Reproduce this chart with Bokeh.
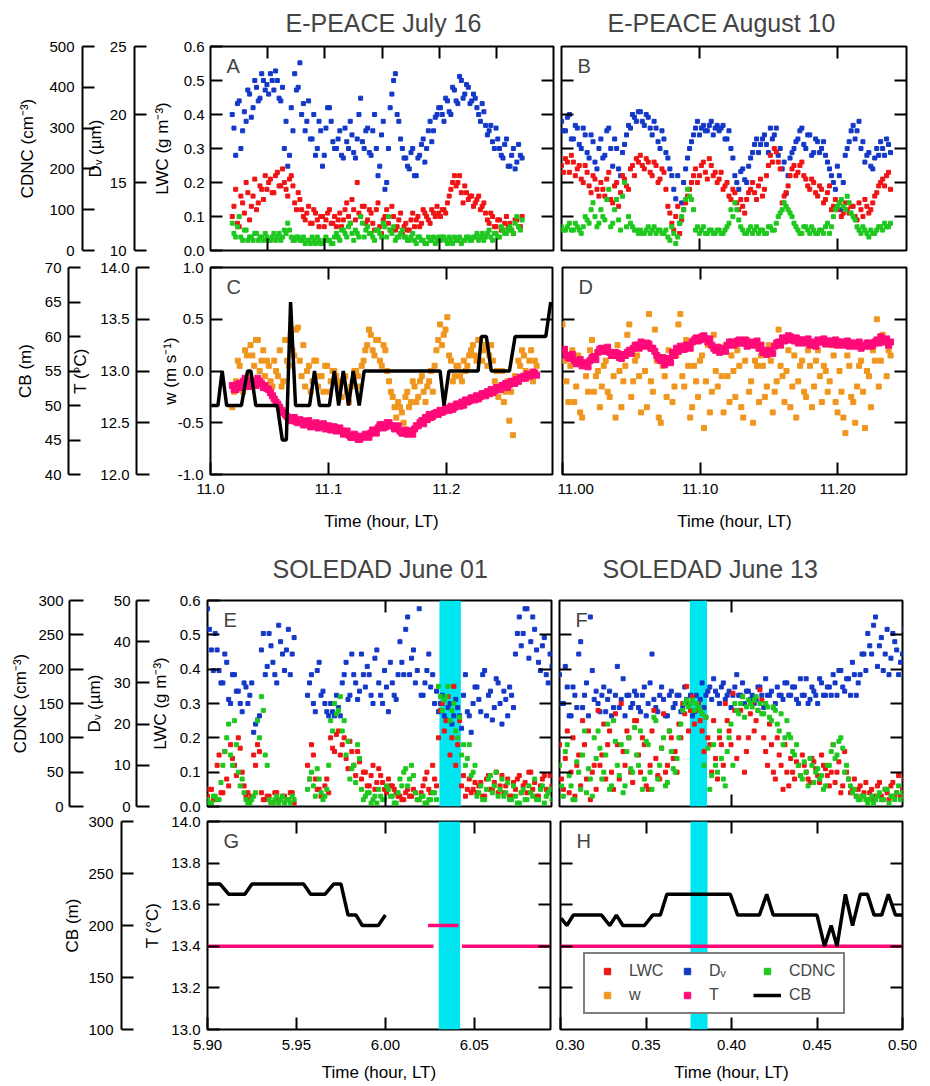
import numpy as np

from bokeh.embed import file_html
from bokeh.layouts import column, row
from bokeh.models import (BoxAnnotation, CustomLabelingPolicy, FixedTicker, Label, Legend,
                          LegendItem, LinearAxis, PrintfTickFormatter, Range1d, Title)
from bokeh.plotting import figure
from bokeh.resources import INLINE

nan = float("nan")

# ---------------- E-PEACE July 16 (panels A and C) ----------------
# two readings per time step: "..._a" on the grid, "..._a2" half a step later
a_span = (11.019, 11.271)
lwc_a = [0.10, 0.18, 0.07, 0.14, 0.20, 0.09, 0.16, 0.12, 0.19, 0.15,
         0.18, 0.21, 0.17, 0.23, 0.19, 0.20, 0.16, 0.22, 0.14, 0.17,
         0.12, 0.09, 0.13, 0.08, 0.11, 0.07, 0.10, 0.09, 0.12, 0.08,
         0.07, 0.11, 0.09, 0.14, 0.08, 0.12, 0.20, 0.10, 0.13, 0.09,
         0.11, 0.06, 0.14, 0.05, 0.10, 0.08, 0.13, 0.06, 0.09, 0.05,
         0.08, 0.06, 0.11, 0.09, 0.07, 0.12, 0.10, 0.08, 0.11, 0.13,
         0.10, 0.12, 0.14, 0.18, 0.22, 0.20, 0.17, 0.19, 0.15, 0.16,
         0.14, 0.16, 0.13, 0.11, 0.08, 0.10, 0.07, 0.09, 0.06, 0.10,
         0.08, 0.05, 0.09, 0.07]
lwc_a2 = [0.13, 0.08, 0.16, 0.11, 0.17, 0.13, 0.21, 0.14, 0.18, 0.22,
          0.20, 0.17, 0.22, 0.19, 0.24, 0.18, 0.21, 0.19, 0.12, 0.15,
          0.10, 0.11, 0.08, 0.12, 0.09, 0.10, 0.07, 0.11, 0.08, 0.10,
          0.09, 0.07, 0.12, 0.10, 0.15, 0.09, 0.11, 0.13, 0.08, 0.12,
          0.08, 0.12, 0.07, 0.09, 0.12, 0.06, 0.10, 0.07, 0.11, 0.07,
          0.06, 0.09, 0.07, 0.10, 0.08, 0.11, 0.09, 0.12, 0.10, 0.11,
          0.12, 0.11, 0.16, 0.20, 0.19, 0.22, 0.14, 0.17, 0.16, 0.13,
          0.15, 0.12, 0.14, 0.09, 0.11, 0.07, 0.09, 0.06, 0.08, 0.07,
          0.06, 0.09, 0.07, 0.10]
dv_a = [20.0, 17.0, 21.0, 18.8, 19.5, 21.5, 20.5, 22.0, 21.2, 22.5,
        22.2, 23.0, 21.8, 22.5, 21.0, 17.5, 16.2, 20.5, 23.0, 22.0,
        20.0, 18.8, 21.0, 18.2, 17.0, 19.5, 16.2, 19.0, 20.5, 18.0,
        17.5, 18.8, 16.8, 18.0, 19.5, 17.2, 18.2, 21.2, 17.5, 19.0,
        17.0, 20.0, 15.5, 18.5, 14.5, 17.5, 21.5, 23.0, 19.5, 17.5,
        16.8, 16.0, 17.5, 15.5, 17.0, 18.2, 17.5, 19.5, 18.8, 20.0,
        20.5, 19.5, 21.0, 20.0, 21.8, 20.8, 22.5, 21.5, 22.0, 21.0,
        21.2, 20.0, 20.8, 19.2, 18.8, 18.0, 19.0, 17.5, 16.8, 18.2,
        16.2, 17.5, 16.5, 17.0]
dv_a2 = [19.0, 20.8, 17.5, 20.2, 21.8, 19.8, 22.5, 21.0, 23.0, 21.8,
         21.5, 22.5, 23.2, 21.2, 22.0, 19.5, 17.0, 18.8, 21.8, 23.8,
         20.8, 19.5, 18.2, 20.0, 17.5, 18.8, 17.0, 20.5, 19.5, 17.5,
         18.2, 17.0, 19.0, 17.5, 18.5, 16.8, 20.0, 18.0, 18.8, 17.2,
         18.8, 17.5, 16.2, 19.5, 15.0, 20.5, 22.5, 20.0, 18.2, 16.8,
         16.2, 17.2, 15.5, 16.8, 17.8, 16.5, 18.8, 18.0, 19.8, 20.5,
         20.0, 21.2, 20.2, 22.0, 21.0, 22.8, 21.2, 22.2, 20.8, 21.5,
         20.5, 19.5, 20.2, 18.5, 19.2, 17.5, 18.2, 17.0, 17.8, 16.2,
         17.0, 16.0, 17.8, 16.8]
cdnc_a = [67, 33, 83, 25, 50, 33, 25, 42, 33, 25,
          33, 25, 42, 33, 25, 50, 67, 33, 25, 33,
          25, 17, 25, 33, 17, 25, 17, 33, 25, 17,
          42, 25, 50, 33, 67, 25, 42, 83, 33, 58,
          42, 25, 50, 33, 58, 83, 42, 25, 33, 50,
          33, 25, 42, 17, 33, 25, 17, 25, 33, 25,
          25, 33, 17, 25, 33, 25, 17, 25, 33, 25,
          33, 25, 42, 33, 50, 25, 42, 33, 50, 42,
          58, 42, 83, 50]
cdnc_a2 = [42, 58, 33, 50, 25, 33, 42, 25, 33, 42,
           25, 33, 25, 42, 33, 42, 50, 25, 33, 25,
           33, 25, 17, 25, 33, 17, 25, 25, 17, 33,
           33, 50, 42, 58, 42, 50, 33, 67, 50, 42,
           33, 50, 42, 67, 33, 50, 58, 33, 42, 33,
           25, 33, 25, 33, 25, 17, 33, 25, 17, 33,
           33, 25, 33, 17, 25, 33, 25, 33, 25, 33,
           42, 33, 25, 42, 33, 42, 33, 58, 42, 50,
           50, 67, 58, 75]

c_span = (11.0185, 11.275)
w_c = [-0.35, -0.10, 0.05, -0.20, 0.15, 0.25, 0.05, 0.30, 0.10, -0.05,
       0.05, -0.15, 0.00, 0.20, -0.10, 0.10, 0.35, 0.15, 0.42, -0.05,
       -0.15, 0.05, -0.10, 0.10, -0.05, -0.20, 0.05, -0.10, 0.00, -0.15,
       -0.25, -0.05, -0.30, -0.10, 0.00, -0.15, 0.10, 0.25, 0.35, 0.15,
       0.30, 0.05, 0.20, -0.10, -0.25, -0.45, -0.35, -0.50, -0.20, -0.30,
       -0.15, -0.25, -0.05, -0.30, -0.10, -0.20, 0.20, 0.45, 0.35, 0.52,
       0.10, -0.05, 0.05, -0.10, 0.00, 0.15, 0.25, 0.10, 0.30, 0.20,
       0.05, 0.25, -0.10, -0.25, 0.00, -0.20, -0.48, -0.62, -0.10, 0.05,
       0.15, -0.05, 0.20, 0.10]
w_c2 = [-0.20, 0.10, -0.15, 0.20, -0.05, 0.15, 0.30, 0.00, 0.20, 0.10,
        -0.10, 0.10, -0.05, -0.15, 0.30, 0.05, 0.20, 0.40, 0.10, 0.25,
        0.00, -0.20, 0.10, -0.15, -0.05, 0.05, -0.20, 0.00, -0.05, -0.10,
        -0.10, -0.20, -0.15, 0.00, -0.05, 0.05, 0.20, 0.40, 0.20, 0.30,
        0.10, 0.25, 0.00, -0.20, -0.35, -0.30, -0.40, -0.25, -0.35, -0.10,
        -0.30, -0.10, -0.20, -0.15, 0.00, 0.05, 0.30, 0.25, 0.40, 0.15,
        -0.10, 0.05, -0.05, 0.10, 0.05, 0.20, 0.15, 0.30, 0.10, 0.25,
        0.15, 0.10, 0.00, -0.15, -0.30, -0.10, -0.20, -0.05, 0.10, 0.20,
        0.00, 0.10, -0.10, 0.05]
temp_c = [12.86, 12.82, 12.88, 12.90, 12.87, 12.91, 12.89, 12.93, 12.88, 12.86,
          12.82, 12.76, 12.70, 12.65, 12.60, 12.56, 12.52, 12.55, 12.50, 12.52,
          12.48, 12.52, 12.47, 12.50, 12.46, 12.49, 12.45, 12.43, 12.46, 12.44,
          12.42, 12.40, 12.38, 12.36, 12.37, 12.34, 12.36, 12.38, 12.40, 12.42,
          12.45, 12.48, 12.46, 12.50, 12.47, 12.45, 12.42, 12.40, 12.39, 12.42,
          12.44, 12.47, 12.52, 12.55, 12.58, 12.56, 12.60, 12.62, 12.61, 12.64,
          12.66, 12.65, 12.68, 12.70, 12.72, 12.71, 12.74, 12.76, 12.75, 12.78,
          12.80, 12.82, 12.81, 12.84, 12.86, 12.88, 12.87, 12.90, 12.92, 12.94,
          12.95, 12.97, 12.96, 12.98]
temp_c2 = [12.82, 12.87, 12.84, 12.93, 12.85, 12.89, 12.86, 12.90, 12.84, 12.83,
           12.79, 12.73, 12.68, 12.62, 12.58, 12.53, 12.55, 12.51, 12.53, 12.48,
           12.51, 12.46, 12.49, 12.45, 12.48, 12.44, 12.47, 12.46, 12.42, 12.45,
           12.39, 12.42, 12.36, 12.39, 12.34, 12.37, 12.39, 12.36, 12.43, 12.40,
           12.48, 12.45, 12.50, 12.47, 12.44, 12.47, 12.40, 12.43, 12.42, 12.39,
           12.47, 12.50, 12.49, 12.53, 12.55, 12.59, 12.58, 12.60, 12.64, 12.62,
           12.63, 12.68, 12.66, 12.67, 12.70, 12.74, 12.72, 12.73, 12.78, 12.76,
           12.78, 12.79, 12.84, 12.82, 12.85, 12.84, 12.90, 12.88, 12.90, 12.93,
           12.93, 12.95, 12.99, 12.96]
cb_c_time = [11.0006, 11.0063, 11.0099, 11.0137, 11.0262, 11.0314, 11.0342, 11.0384,
             11.0566, 11.0609, 11.0643, 11.0679, 11.0721, 11.0840, 11.0882, 11.0924,
             11.1008, 11.1050, 11.1087, 11.1126, 11.1171, 11.1210, 11.1261, 11.1303,
             11.1947, 11.1980, 11.2022, 11.2269, 11.2297, 11.2339, 11.2381, 11.2535,
             11.2583, 11.2843, 11.2885]
cb_c = [50, 50, 55, 50, 50, 55, 55, 50, 50, 45, 45, 65, 50, 50, 55, 50, 50, 55,
        50, 55, 50, 55, 50, 55, 55, 50, 55, 55, 60, 60, 55, 55, 60, 60, 65]

# ---------------- E-PEACE August 10 (panels B and D) ----------------
b_span = (11.0, 11.237)
lwc_b = [0.25, 0.27, 0.23, 0.26, 0.24, 0.21, 0.25, 0.19, 0.22, 0.18,
         0.20, 0.16, 0.23, 0.14, 0.20, 0.17, 0.21, 0.18, 0.25, 0.27,
         0.28, 0.24, 0.26, 0.22, 0.25, 0.21, 0.23, 0.13, 0.08, 0.10,
         0.05, 0.12, 0.16, 0.20, 0.24, 0.22, 0.26, 0.21, 0.25, 0.23,
         0.21, 0.18, 0.20, 0.15, 0.17, 0.12, 0.13, 0.15, 0.18, 0.17,
         0.19, 0.16, 0.22, 0.28, 0.30, 0.26, 0.14, 0.17, 0.22, 0.25,
         0.23, 0.26, 0.21, 0.18, 0.20, 0.16, 0.18, 0.15, 0.19, 0.13,
         0.12, 0.10, 0.14, 0.11, 0.13, 0.09, 0.12, 0.15, 0.11, 0.14,
         0.17, 0.20, 0.19, 0.23]
lwc_b2 = [0.23, 0.26, 0.28, 0.22, 0.25, 0.20, 0.23, 0.17, 0.21, 0.16,
          0.18, 0.21, 0.15, 0.19, 0.13, 0.22, 0.19, 0.24, 0.22, 0.26,
          0.25, 0.27, 0.23, 0.26, 0.20, 0.24, 0.18, 0.11, 0.06, 0.13,
          0.09, 0.14, 0.18, 0.22, 0.20, 0.25, 0.23, 0.27, 0.22, 0.20,
          0.23, 0.19, 0.16, 0.18, 0.14, 0.15, 0.11, 0.17, 0.20, 0.15,
          0.21, 0.18, 0.25, 0.26, 0.29, 0.24, 0.16, 0.19, 0.24, 0.22,
          0.25, 0.22, 0.19, 0.21, 0.17, 0.19, 0.14, 0.17, 0.12, 0.15,
          0.14, 0.11, 0.12, 0.13, 0.10, 0.14, 0.10, 0.13, 0.12, 0.16,
          0.19, 0.21, 0.22, 0.18]
dv_b = [19.5, 18.8, 20.0, 18.2, 19.0, 17.5, 18.5, 16.8, 18.0, 16.0,
        18.2, 17.0, 19.0, 16.2, 17.5, 15.5, 17.8, 19.2, 20.0, 19.5,
        20.2, 19.2, 19.8, 18.5, 19.0, 17.5, 18.2, 16.8, 15.5, 13.8,
        12.0, 15.0, 16.8, 18.0, 19.0, 18.5, 19.2, 18.8, 19.5, 19.0,
        18.8, 19.2, 18.2, 17.5, 15.5, 14.5, 16.0, 15.0, 16.8, 17.8,
        17.2, 18.2, 17.8, 19.0, 18.5, 17.0, 16.0, 14.2, 16.8, 17.5,
        18.2, 19.0, 17.5, 18.5, 17.2, 18.0, 17.5, 17.0, 16.0, 15.0,
        16.2, 13.0, 17.0, 18.0, 19.2, 18.8, 17.5, 16.5, 17.2, 16.0,
        17.5, 18.0, 17.0, 17.8]
dv_b2 = [18.8, 19.8, 18.2, 19.2, 17.8, 19.0, 17.2, 18.5, 16.5, 17.5,
         16.8, 18.8, 17.5, 18.2, 16.0, 17.2, 18.5, 19.0, 19.8, 20.2,
         19.5, 20.0, 19.0, 19.5, 18.0, 18.8, 17.2, 16.0, 14.5, 15.5,
         13.5, 16.0, 17.5, 18.5, 19.5, 19.0, 18.8, 19.2, 18.5, 19.2,
         19.0, 18.2, 18.8, 16.8, 15.0, 15.8, 15.2, 16.2, 17.2, 18.2,
         17.8, 18.5, 17.2, 18.2, 19.0, 17.5, 16.5, 15.5, 17.2, 18.0,
         18.8, 17.8, 18.5, 17.0, 18.2, 17.2, 18.0, 16.5, 15.5, 14.5,
         15.5, 15.0, 17.5, 18.8, 18.2, 19.5, 18.0, 17.0, 16.2, 16.8,
         17.0, 17.5, 18.2, 17.2]
cdnc_b = [58, 50, 67, 50, 58, 42, 83, 67, 117, 58,
          100, 75, 150, 67, 125, 50, 167, 83, 58, 50,
          50, 42, 58, 50, 42, 50, 42, 33, 58, 17,
          67, 100, 150, 125, 50, 42, 58, 42, 50, 42,
          50, 42, 58, 100, 117, 75, 50, 42, 58, 50,
          42, 50, 42, 58, 50, 83, 100, 108, 92, 67,
          50, 42, 58, 42, 50, 42, 50, 58, 42, 83,
          108, 125, 100, 117, 83, 58, 42, 50, 33, 42,
          50, 58, 67, 58]
cdnc_b2 = [50, 58, 50, 67, 50, 58, 75, 100, 83, 67,
           83, 125, 58, 100, 75, 133, 58, 67, 50, 42,
           42, 50, 42, 58, 50, 42, 50, 25, 42, 33,
           83, 125, 133, 100, 58, 50, 42, 50, 42, 50,
           42, 50, 67, 83, 100, 58, 42, 50, 42, 58,
           50, 42, 58, 50, 67, 92, 117, 100, 83, 58,
           42, 58, 50, 58, 42, 50, 42, 67, 58, 100,
           117, 108, 133, 92, 75, 50, 58, 42, 50, 42,
           58, 50, 58, 67]

d_span = (11.0, 11.237)
w_d = [0.45, -0.10, 0.05, -0.30, 0.15, -0.45, -0.05, 0.20, -0.20, 0.00,
       -0.15, 0.10, -0.25, -0.05, 0.25, -0.35, 0.05, 0.45, -0.10, 0.15,
       -0.40, 0.00, 0.55, -0.20, 0.10, -0.50, -0.05, 0.20, -0.30, 0.15,
       0.55, -0.15, 0.05, -0.35, -0.10, 0.10, -0.55, 0.25, -0.20, 0.00,
       0.20, -0.40, -0.05, 0.15, -0.25, 0.05, -0.45, 0.30, -0.10, 0.10,
       -0.30, 0.05, -0.15, 0.10, -0.20, 0.40, -0.05, 0.00, -0.35, 0.15,
       -0.10, 0.10, -0.25, 0.05, -0.15, 0.20, -0.30, 0.00, -0.10, 0.15,
       -0.40, -0.20, -0.60, 0.05, -0.30, -0.15, 0.10, -0.55, -0.05, 0.20,
       0.50, 0.10, 0.30, 0.20]
w_d2 = [0.10, -0.30, 0.20, -0.15, -0.40, 0.05, -0.20, 0.30, -0.05, -0.35,
        0.05, -0.20, 0.15, -0.45, 0.00, -0.10, 0.35, -0.25, 0.10, -0.05,
        0.25, -0.35, -0.10, 0.40, -0.45, 0.05, -0.25, 0.10, -0.15, 0.45,
        -0.05, 0.30, -0.45, 0.05, -0.25, 0.15, -0.10, -0.40, 0.35, -0.15,
        -0.05, 0.25, -0.30, 0.00, 0.20, -0.35, 0.10, -0.20, -0.50, 0.05,
        0.15, -0.25, 0.25, -0.40, -0.10, 0.05, -0.30, 0.20, -0.15, -0.45,
        0.05, -0.20, 0.20, -0.35, 0.10, -0.05, 0.05, -0.20, 0.25, -0.30,
        0.00, -0.45, 0.15, -0.25, -0.50, 0.05, -0.20, 0.00, -0.35, 0.10,
        -0.15, 0.35, -0.05, 0.15]
temp_d = [13.18, 13.15, 13.12, 13.10, 13.08, 13.05, 13.07, 13.10, 13.14, 13.18,
          13.22, 13.20, 13.18, 13.15, 13.17, 13.12, 13.15, 13.20, 13.22, 13.25,
          13.28, 13.24, 13.26, 13.22, 13.15, 13.10, 13.06, 13.12, 13.18, 13.22,
          13.24, 13.21, 13.25, 13.28, 13.32, 13.30, 13.34, 13.28, 13.25, 13.20,
          13.18, 13.22, 13.25, 13.28, 13.26, 13.30, 13.27, 13.24, 13.28, 13.26,
          13.22, 13.18, 13.16, 13.20, 13.24, 13.28, 13.32, 13.30, 13.33, 13.29,
          13.27, 13.30, 13.28, 13.25, 13.27, 13.30, 13.28, 13.26, 13.29, 13.27,
          13.25, 13.28, 13.26, 13.24, 13.27, 13.25, 13.22, 13.24, 13.27, 13.25,
          13.30, 13.33, 13.28, 13.25]
temp_d2 = [13.21, 13.13, 13.16, 13.07, 13.11, 13.08, 13.04, 13.13, 13.11, 13.21,
           13.19, 13.23, 13.15, 13.18, 13.13, 13.16, 13.18, 13.17, 13.25, 13.22,
           13.25, 13.27, 13.22, 13.19, 13.12, 13.13, 13.09, 13.08, 13.15, 13.19,
           13.21, 13.25, 13.22, 13.30, 13.29, 13.33, 13.31, 13.31, 13.22, 13.23,
           13.21, 13.19, 13.28, 13.25, 13.29, 13.27, 13.30, 13.27, 13.25, 13.29,
           13.25, 13.20, 13.19, 13.17, 13.27, 13.25, 13.29, 13.34, 13.30, 13.32,
           13.30, 13.27, 13.31, 13.28, 13.24, 13.28, 13.31, 13.29, 13.26, 13.30,
           13.28, 13.25, 13.29, 13.27, 13.24, 13.28, 13.25, 13.27, 13.24, 13.28,
           13.27, 13.30, 13.31, 13.28]

# ---------------- SOLEDAD June 01 (panels E and G) ----------------
e_span = (5.900, 6.092)
lwc_e = [0.03, 0.05, 0.02, 0.15, 0.04, 0.08, 0.18, 0.12, 0.20, 0.10,
         0.03, 0.02, 0.15, 0.18, 0.04, 0.02, 0.03, 0.01, 0.04, 0.02,
         0.03, 0.02, 0.04, nan, nan, nan, 0.12, 0.18, 0.08, 0.05,
         0.03, 0.08, 0.20, 0.16, 0.22, 0.18, 0.14, 0.19, 0.12, 0.16,
         0.08, 0.10, 0.06, 0.12, 0.07, 0.09, 0.05, 0.08, 0.06, 0.04,
         0.03, 0.02, 0.05, 0.03, 0.04, 0.02, 0.06, 0.10, 0.04, 0.08,
         0.20, 0.30, 0.25, 0.15, 0.35, 0.18, 0.06, 0.03, 0.08, 0.05,
         0.04, 0.07, 0.03, 0.09, 0.05, 0.10, 0.06, 0.04, 0.08, 0.03,
         0.05, 0.09, 0.06, 0.04, 0.10, 0.07, 0.03, 0.08, 0.05, 0.09]
lwc_e2 = [0.05, 0.02, 0.12, 0.04, 0.16, 0.06, 0.14, 0.09, 0.17, 0.06,
          0.04, 0.03, 0.12, 0.16, 0.02, 0.03, 0.01, 0.04, 0.02, 0.03,
          0.02, 0.04, 0.01, nan, nan, nan, 0.08, 0.15, 0.05, 0.03,
          0.06, 0.04, 0.17, 0.21, 0.15, 0.20, 0.11, 0.16, 0.09, 0.13,
          0.10, 0.06, 0.09, 0.05, 0.11, 0.07, 0.04, 0.06, 0.05, 0.03,
          0.02, 0.04, 0.03, 0.05, 0.02, 0.04, 0.08, 0.05, 0.12, 0.06,
          0.28, 0.22, 0.32, 0.20, 0.12, 0.25, 0.09, 0.05, 0.04, 0.07,
          0.06, 0.03, 0.08, 0.05, 0.07, 0.04, 0.09, 0.06, 0.03, 0.07,
          0.08, 0.04, 0.07, 0.10, 0.05, 0.03, 0.06, 0.09, 0.04, 0.06]
dv_e = [48, 38, 42, 33, 30, 35, 25, 32, 28, 23,
        29, 27, 18, 21, 38, 32, 42, 35, 30, 40,
        33, 43, 37, nan, nan, nan, 27, 32, 23, 35,
        28, 23, 25, 22, 24, 30, 35, 27, 32, 26,
        37, 29, 32, 25, 38, 27, 33, 23, 30, 26,
        40, 32, 46, 36, 30, 48, 27, 33, 29, 25,
        23, 27, 21, 25, 22, 24, 19, 32, 22, 25,
        29, 23, 33, 27, 21, 31, 25, 28, 22, 27,
        37, 46, 42, 48, 40, 43, 35, 39, 32, 37]
dv_e2 = [43, 33, 38, 30, 37, 26, 32, 28, 25, 30,
         25, 30, 20, 22, 42, 34, 39, 32, 44, 37,
         38, 32, 41, nan, nan, nan, 30, 25, 33, 27,
         25, 22, 23, 27, 22, 32, 26, 37, 30, 28,
         32, 34, 27, 36, 30, 25, 29, 35, 27, 32,
         35, 43, 32, 38, 33, 27, 30, 37, 32, 28,
         25, 22, 24, 20, 26, 22, 27, 23, 18, 29,
         26, 32, 22, 28, 24, 30, 20, 26, 29, 24,
         42, 39, 48, 36, 46, 38, 33, 41, 30, 34]
cdnc_e = [10, 5, 15, 10, 60, 100, 75, 125, 50, 40,
          10, 5, 15, 125, 160, 75, 10, 5, 15, 10,
          5, 10, 15, nan, nan, nan, 25, 50, 15, 40,
          10, 25, 125, 150, 140, 110, 75, 40, 60, 90,
          25, 15, 20, 10, 5, 15, 10, 25, 15, 5,
          40, 50, 30, 60, 20, 10, 15, 5, 10, 20,
          175, 140, 160, 125, 150, 100, 75, 60, 90, 50,
          15, 30, 10, 40, 20, 50, 25, 15, 35, 10,
          15, 5, 25, 10, 20, 40, 10, 30, 15, 25]
cdnc_e2 = [5, 15, 10, 35, 80, 120, 60, 90, 30, 20,
           5, 10, 20, 100, 140, 60, 5, 10, 5, 15,
           10, 5, 10, nan, nan, nan, 40, 30, 55, 20,
           15, 60, 110, 135, 160, 125, 95, 55, 35, 70,
           10, 20, 5, 15, 25, 10, 30, 15, 5, 20,
           30, 55, 40, 45, 10, 15, 5, 10, 20, 10,
           160, 155, 175, 140, 110, 130, 90, 70, 45, 60,
           20, 10, 25, 45, 30, 15, 40, 20, 10, 30,
           5, 20, 10, 30, 15, 10, 25, 5, 20, 10]
shade_e = (6.030, 6.042)

cb_g_time = [5.900, 5.907, 5.912, 5.921, 5.925, 5.954, 5.958, 5.966, 5.971, 5.975,
             5.979, 5.9835, 5.987, 5.996, 6.000]
cb_g = [240, 240, 230, 230, 240, 240, 230, 230, 240, 240, 210, 210, 200, 200, 210]
temp_g_time = [5.900, 6.027, nan, 6.024, 6.041, nan, 6.043, 6.092]
temp_g = [13.4, 13.4, nan, 13.5, 13.5, nan, 13.4, 13.4]

# ---------------- SOLEDAD June 13 (panels F and H) ----------------
f_span = (0.300, 0.500)
lwc_f = [0.18, 0.05, 0.22, 0.10, 0.03, 0.15, 0.25, 0.08, 0.02, 0.12,
         0.28, 0.15, 0.08, 0.22, 0.05, 0.18, 0.30, 0.12, 0.20, 0.07,
         0.25, 0.10, 0.18, 0.05, 0.22, 0.14, 0.08, 0.27, 0.12, 0.20,
         0.16, 0.24, 0.30, 0.35, 0.28, 0.24, 0.30, 0.22, 0.26, 0.18,
         0.25, 0.08, 0.18, 0.30, 0.22, 0.33, 0.14, 0.28, 0.10, 0.20,
         0.30, 0.25, 0.34, 0.20, 0.12, 0.18, 0.08, 0.15, 0.05, 0.10,
         0.14, 0.08, 0.12, 0.15, 0.10, 0.07, 0.13, 0.09, 0.15, 0.11,
         0.06, 0.18, 0.10, 0.04, 0.16, 0.08, 0.05, 0.03, 0.06, 0.04,
         0.02, 0.05, 0.03, 0.07, 0.02, 0.04, 0.06, 0.03, 0.09, 0.05]
lwc_f2 = [0.08, 0.14, 0.04, 0.20, 0.12, 0.06, 0.18, 0.22, 0.10, 0.05,
          0.12, 0.24, 0.18, 0.10, 0.27, 0.08, 0.16, 0.22, 0.10, 0.25,
          0.15, 0.20, 0.06, 0.12, 0.28, 0.09, 0.17, 0.10, 0.22, 0.14,
          0.10, 0.20, 0.27, 0.22, 0.32, 0.28, 0.25, 0.16, 0.20, 0.10,
          0.14, 0.20, 0.12, 0.25, 0.18, 0.28, 0.20, 0.32, 0.16, 0.27,
          0.22, 0.28, 0.31, 0.16, 0.24, 0.10, 0.20, 0.12, 0.18, 0.06,
          0.10, 0.13, 0.09, 0.12, 0.08, 0.14, 0.11, 0.07, 0.12, 0.09,
          0.10, 0.07, 0.13, 0.06, 0.10, 0.04, 0.08, 0.05, 0.03, 0.07,
          0.04, 0.02, 0.06, 0.03, 0.05, 0.02, 0.07, 0.04, 0.03, 0.08]
dv_f = [32, 25, 29, 22, 27, 37, 24, 30, 46, 26,
        25, 27, 23, 28, 24, 34, 26, 22, 27, 25,
        27, 23, 29, 25, 37, 24, 27, 26, 22, 28,
        25, 27, 24, 26, 27, 23, 25, 30, 27, 29,
        31, 27, 29, 26, 28, 27, 32, 27, 25, 28,
        27, 26, 29, 24, 27, 28, 25, 27, 26, 30,
        27, 29, 25, 27, 31, 26, 28, 25, 30, 27,
        29, 32, 27, 33, 28, 31, 35, 27, 32, 37,
        42, 37, 46, 39, 33, 43, 36, 40, 32, 37]
dv_f2 = [25, 34, 22, 29, 24, 40, 27, 22, 33, 28,
         23, 29, 26, 22, 27, 24, 31, 27, 24, 28,
         24, 27, 22, 30, 26, 23, 29, 22, 27, 24,
         27, 23, 29, 25, 22, 27, 26, 24, 28, 26,
         28, 25, 30, 27, 24, 29, 27, 30, 28, 26,
         25, 29, 27, 31, 27, 24, 29, 27, 30, 27,
         29, 26, 31, 27, 25, 29, 27, 31, 27, 29,
         27, 30, 33, 29, 31, 27, 32, 30, 37, 33,
         39, 44, 34, 41, 37, 32, 42, 38, 35, 43]
cdnc_f = [60, 15, 90, 30, 10, 50, 75, 20, 40, 100,
          110, 40, 75, 25, 125, 60, 90, 30, 100, 50,
          75, 110, 40, 90, 25, 125, 60, 100, 35, 80,
          50, 100, 140, 155, 150, 140, 145, 135, 130, 25,
          90, 50, 70, 30, 100, 60, 140, 150, 130, 155,
          145, 160, 150, 135, 145, 125, 140, 110, 90, 125,
          100, 75, 60, 40, 50, 70, 35, 55, 45, 30,
          60, 90, 75, 100, 50, 40, 20, 15, 10, 15,
          5, 15, 10, 20, 10, 25, 15, 10, 30, 20]
cdnc_f2 = [30, 80, 45, 10, 65, 25, 110, 55, 15, 70,
           85, 50, 120, 30, 95, 45, 20, 80, 55, 115,
           60, 25, 95, 50, 130, 40, 85, 30, 110, 55,
           70, 120, 150, 145, 155, 150, 140, 60, 85, 45,
           60, 110, 40, 80, 120, 150, 135, 160, 145, 150,
           155, 140, 135, 150, 130, 145, 120, 135, 100, 105,
           80, 90, 45, 65, 30, 60, 50, 40, 25, 60,
           80, 70, 95, 85, 60, 30, 25, 10, 15, 10,
           10, 5, 15, 10, 25, 5, 15, 20, 10, 15]
shade_f = (0.376, 0.386)

cb_h_time = [0.3004, 0.3037, 0.3075, 0.3240, 0.3288, 0.3327, 0.3365, 0.3491, 0.3539,
             0.3584, 0.3622, 0.3993, 0.4036, 0.4163, 0.4206, 0.4244, 0.4500, 0.4544,
             0.4583, 0.4617, 0.4666, 0.4708, 0.4753, 0.4795, 0.4834, 0.4878, 0.4917,
             0.4959, 0.4998]
cb_h = [207, 200, 210, 210, 200, 210, 200, 200, 210, 210, 230, 230, 210, 210, 230,
        210, 210, 180, 200, 180, 230, 200, 230, 230, 210, 210, 230, 210, 210]
temp_h_time = [0.300, 0.500]
temp_h = [13.4, 13.4]

FONT = "Liberation Sans"
RED, BLUE, GREEN = "#f01414", "#1438c8", "#1ec81e"
ORANGE, PINK, CYAN = "#f0961e", "#ff0a78", "#00e6f0"


def times(span, vals, late=False):
    # sample times on the span; "late" readings sit half a step after the grid
    t = np.linspace(span[0], span[1], len(vals))
    if late:
        t = t + 0.5 * (t[1] - t[0])
    return t


def panel(w, h, xr, yr, borders, title=None, title_off=0, title_gap=8):
    l, r, t, b = borders
    p = figure(width=w, height=h, x_range=Range1d(*xr), y_range=Range1d(*yr),
               output_backend="svg", toolbar_location=None,
               x_axis_location=None, y_axis_location=None,
               min_border_left=l, min_border_right=r, min_border_top=t, min_border_bottom=b)
    p.grid.visible = False
    p.outline_line_color = "black"
    p.outline_line_width = 2
    if title:
        p.title = Title(text=title, align="left", offset=title_off, standoff=title_gap,
                        text_font=FONT, text_font_size="25px", text_font_style="normal")
    return p


def add_axis(p, side, ticks, fmt=None, label=None, rng=None, line=False,
             tick_in=12, standoff=6, label_gap=8):
    ax = LinearAxis(ticker=FixedTicker(ticks=ticks), major_tick_in=tick_in, major_tick_out=0,
                    major_tick_line_width=2, major_tick_line_color="black",
                    minor_tick_line_color=None,
                    axis_line_color="black" if line else None, axis_line_width=2)
    if rng:
        ax.y_range_name = rng
    if fmt:
        ax.formatter = PrintfTickFormatter(format=fmt)
        ax.major_label_standoff = standoff
        ax.major_label_text_font = FONT
        ax.major_label_text_font_size = "15px"
        ax.major_label_text_color = "black"
    else:
        # ticks only, no numbers on this side
        ax.major_label_standoff = 0
        ax.major_label_text_font_size = "1px"
        ax.major_label_policy = CustomLabelingPolicy(code="return []")
    if label:
        ax.axis_label = label
        ax.axis_label_standoff = label_gap
        ax.axis_label_text_font = FONT
        ax.axis_label_text_font_size = "17px"
        ax.axis_label_text_font_style = "normal"
        ax.axis_label_text_color = "black"
    p.add_layout(ax, side)


def spacer(p, w, at):
    # blank axis between two stacked axes: one white outward tick of length w at a free spot
    p.add_layout(LinearAxis(ticker=FixedTicker(ticks=[at]), major_tick_out=w, major_tick_in=0,
                            axis_line_color=None, major_tick_line_color="white",
                            major_tick_line_width=1, minor_tick_line_color=None,
                            major_label_standoff=0, major_label_text_font_size="1px",
                            major_label_policy=CustomLabelingPolicy(code="return []")), "left")


def letter(p, s):
    p.add_layout(Label(x=p.x_range.start, y=p.y_range.end, text=s, x_offset=16, y_offset=-8,
                       text_baseline="top", text_font=FONT, text_font_size="20px"))


def dots(p, t, v, color, size=4, rng="default"):
    return p.scatter(t, v, marker="square", size=size, color=color, y_range_name=rng)


lwc_ticks = [0.0, 0.1, 0.2, 0.3, 0.4, 0.5, 0.6]
lwc_in = [0.1, 0.2, 0.3, 0.4, 0.5]
TIME = "Time (hour, LT)"

# ---- A ----
pa = panel(557, 259, (11.0, 11.3), (0, 0.6), (210, 1, 44, 9), "E-PEACE July 16", 75, 12)
pa.extra_y_ranges = {"dv": Range1d(10, 25), "cdnc": Range1d(0, 500)}
add_axis(pa, "left", lwc_ticks, "%.1f", "LWC (g m⁻³)", standoff=6, label_gap=9)
spacer(pa, 10, 0.05)
add_axis(pa, "left", [10, 15, 20, 25], "%d", "Dᵥ (µm)", rng="dv", line=True, standoff=8, label_gap=2)
add_axis(pa, "left", [0, 100, 200, 300, 400, 500], "%d", "CDNC (cm⁻³)", rng="cdnc", line=True,
         standoff=8, label_gap=9)
add_axis(pa, "right", lwc_in)
add_axis(pa, "below", [11.05, 11.10, 11.15, 11.20, 11.25])
add_axis(pa, "above", [11.05, 11.10, 11.15, 11.20, 11.25])
dots(pa, times(a_span, dv_a), dv_a, BLUE, rng="dv")
dots(pa, times(a_span, dv_a2, True), dv_a2, BLUE, rng="dv")
dots(pa, times(a_span, lwc_a), lwc_a, RED)
dots(pa, times(a_span, lwc_a2, True), lwc_a2, RED)
dots(pa, times(a_span, cdnc_a), cdnc_a, GREEN, rng="cdnc")
dots(pa, times(a_span, cdnc_a2, True), cdnc_a2, GREEN, rng="cdnc")
letter(pa, "A")

# ---- B ----
pb = panel(365, 259, (11.0, 11.25), (0, 0.6), (2, 16, 44, 9), "E-PEACE August 10", 46, 12)
pb.extra_y_ranges = {"dv": Range1d(10, 25), "cdnc": Range1d(0, 500)}
add_axis(pb, "left", lwc_in)
add_axis(pb, "right", lwc_in)
add_axis(pb, "below", [11.1, 11.2])
add_axis(pb, "above", [11.1, 11.2])
dots(pb, times(b_span, dv_b), dv_b, BLUE, rng="dv")
dots(pb, times(b_span, dv_b2, True), dv_b2, BLUE, rng="dv")
dots(pb, times(b_span, lwc_b), lwc_b, RED)
dots(pb, times(b_span, lwc_b2, True), lwc_b2, RED)
dots(pb, times(b_span, cdnc_b), cdnc_b, GREEN, rng="cdnc")
dots(pb, times(b_span, cdnc_b2, True), cdnc_b2, GREEN, rng="cdnc")
letter(pb, "B")

# ---- C ----
pc = panel(557, 274, (11.0, 11.29), (-1, 1), (210, 1, 8, 59))
pc.extra_y_ranges = {"t": Range1d(12, 14), "cb": Range1d(40, 70)}
add_axis(pc, "left", [-1.0, -0.5, 0.0, 0.5, 1.0], "%.1f", "w (m s⁻¹)", standoff=7, label_gap=-5)
spacer(pc, 15, -0.85)
add_axis(pc, "left", [12.0, 12.5, 13.0, 13.5, 14.0], "%.1f", "T (°C)", rng="t", line=True,
         tick_in=13, standoff=7, label_gap=7)
add_axis(pc, "left", [40, 45, 50, 55, 60, 65, 70], "%d", "CB (m)", rng="cb", line=True,
         standoff=7, label_gap=7)
add_axis(pc, "right", [-0.5, 0.0, 0.5])
add_axis(pc, "below", [11.0, 11.1, 11.2], "%.1f", TIME, standoff=9, label_gap=15)
add_axis(pc, "above", [11.1, 11.2])
dots(pc, times(c_span, w_c), w_c, ORANGE, size=5)
dots(pc, times(c_span, w_c2, True), w_c2, ORANGE, size=5)
dots(pc, times(c_span, temp_c), temp_c, PINK, size=6, rng="t")
dots(pc, times(c_span, temp_c2, True), temp_c2, PINK, size=6, rng="t")
pc.line(cb_c_time, cb_c, color="black", line_width=3.5, y_range_name="cb")
letter(pc, "C")

# ---- D ----
pd = panel(365, 274, (11.0, 11.25), (-1, 1), (2, 16, 8, 59))
pd.extra_y_ranges = {"t": Range1d(12, 14)}
add_axis(pd, "left", [-0.5, 0.0, 0.5])
add_axis(pd, "right", [-0.5, 0.0, 0.5])
add_axis(pd, "below", [11.0, 11.1, 11.2], "%.2f", TIME, standoff=9, label_gap=15)
add_axis(pd, "above", [11.1, 11.2])
dots(pd, times(d_span, w_d), w_d, ORANGE, size=5)
dots(pd, times(d_span, w_d2, True), w_d2, ORANGE, size=5)
dots(pd, times(d_span, temp_d), temp_d, PINK, size=6, rng="t")
dots(pd, times(d_span, temp_d2, True), temp_d2, PINK, size=6, rng="t")
letter(pd, "D")

# ---- E ----
pe = panel(555, 281, (5.90, 6.0928), (0, 0.6), (207, 1, 67, 8), "SOLEDAD June 01", 65, 27)
pe.extra_y_ranges = {"dv": Range1d(0, 50), "cdnc": Range1d(0, 300)}
add_axis(pe, "left", lwc_ticks, "%.1f", "LWC (g m⁻³)", standoff=7, label_gap=7)
spacer(pe, 6, 0.05)
add_axis(pe, "left", [0, 10, 20, 30, 40, 50], "%d", "Dᵥ (µm)", rng="dv", line=True,
         tick_in=13, standoff=6, label_gap=7)
spacer(pe, 7, 0.05)
add_axis(pe, "left", [0, 50, 100, 150, 200, 250, 300], "%d", "CDNC (cm⁻³)", rng="cdnc",
         line=True, tick_in=14, standoff=6, label_gap=5)
add_axis(pe, "right", lwc_in)
add_axis(pe, "below", [6.0])
add_axis(pe, "above", [6.0])
pe.add_layout(BoxAnnotation(left=shade_e[0], right=shade_e[1], fill_color=CYAN, fill_alpha=1,
                            line_color=None, level="underlay"))
dots(pe, times(e_span, dv_e), dv_e, BLUE, rng="dv")
dots(pe, times(e_span, dv_e2, True), dv_e2, BLUE, rng="dv")
dots(pe, times(e_span, lwc_e), lwc_e, RED)
dots(pe, times(e_span, lwc_e2, True), lwc_e2, RED)
dots(pe, times(e_span, cdnc_e), cdnc_e, GREEN, rng="cdnc")
dots(pe, times(e_span, cdnc_e2, True), cdnc_e2, GREEN, rng="cdnc")
letter(pe, "E")

# ---- F ----
pf = panel(367, 281, (0.30, 0.50), (0, 0.6), (2, 20, 67, 8), "SOLEDAD June 13", 43, 27)
pf.extra_y_ranges = {"dv": Range1d(0, 50), "cdnc": Range1d(0, 300)}
add_axis(pf, "left", lwc_in)
add_axis(pf, "right", lwc_in)
add_axis(pf, "below", [0.4])
add_axis(pf, "above", [0.4])
pf.add_layout(BoxAnnotation(left=shade_f[0], right=shade_f[1], fill_color=CYAN, fill_alpha=1,
                            line_color=None, level="underlay"))
dots(pf, times(f_span, dv_f), dv_f, BLUE, rng="dv")
dots(pf, times(f_span, dv_f2, True), dv_f2, BLUE, rng="dv")
dots(pf, times(f_span, lwc_f), lwc_f, RED)
dots(pf, times(f_span, lwc_f2, True), lwc_f2, RED)
dots(pf, times(f_span, cdnc_f), cdnc_f, GREEN, rng="cdnc")
dots(pf, times(f_span, cdnc_f2, True), cdnc_f2, GREEN, rng="cdnc")
letter(pf, "F")

# ---- G ----
t_ticks = [13.0, 13.2, 13.4, 13.6, 13.8, 14.0]
pg = panel(555, 270, (5.90, 6.0928), (13, 14), (207, 1, 7, 55))
pg.extra_y_ranges = {"cb": Range1d(100, 300)}
add_axis(pg, "left", t_ticks, "%.1f", "T (°C)", standoff=7, label_gap=6)
spacer(pg, 14, 13.1)
add_axis(pg, "left", [100, 150, 200, 250, 300], "%d", "CB (m)", rng="cb", line=True,
         standoff=8, label_gap=3)
add_axis(pg, "right", t_ticks[1:-1])
add_axis(pg, "below", [5.90, 5.95, 6.00, 6.05], "%.2f", TIME, standoff=10, label_gap=10)
add_axis(pg, "above", [5.95, 6.00, 6.05])
pg.add_layout(BoxAnnotation(left=shade_e[0], right=shade_e[1], fill_color=CYAN, fill_alpha=1,
                            line_color=None, level="underlay"))
pg.line(temp_g_time, temp_g, color=PINK, line_width=3.5)
pg.line(cb_g_time, cb_g, color="black", line_width=3.5, y_range_name="cb")
letter(pg, "G")

# ---- H ----
ph = panel(367, 270, (0.30, 0.50), (13, 14), (2, 20, 7, 55))
ph.extra_y_ranges = {"cb": Range1d(100, 300)}
add_axis(ph, "left", t_ticks[1:-1])
add_axis(ph, "right", t_ticks[1:-1])
add_axis(ph, "below", [0.30, 0.35, 0.40, 0.45, 0.50], "%.2f", TIME, standoff=10, label_gap=10)
add_axis(ph, "above", [0.35, 0.40, 0.45])
ph.add_layout(BoxAnnotation(left=shade_f[0], right=shade_f[1], fill_color=CYAN, fill_alpha=1,
                            line_color=None, level="underlay"))
ph.line(temp_h_time, temp_h, color=PINK, line_width=3.5)
cb_r = ph.line(cb_h_time, cb_h, color="black", line_width=3.5, y_range_name="cb")
letter(ph, "H")

# legend swatches (a single empty point each, only used for the key)
keys = [("LWC", RED), ("Dᵥ", BLUE), ("CDNC", GREEN), ("w", ORANGE), ("T", PINK)]
items = [LegendItem(label=k, renderers=[ph.scatter([nan], [nan], marker="square", size=6, color=c)])
         for k, c in keys]
items.append(LegendItem(label="CB", renderers=[cb_r]))
legend = Legend(items=items, location=(23, 15), orientation="horizontal", ncols=3,
                border_line_color="black", border_line_width=2, background_fill_alpha=1,
                label_text_font=FONT, label_text_font_size="16px",
                glyph_width=28, glyph_height=16, label_standoff=8, label_width=38,
                spacing=6, padding=8, margin=0)
ph.add_layout(legend)

layout = column(row(pa, pb), row(pc, pd), row(pe, pf), row(pg, ph))
open("out.html", "w").write(file_html(layout, INLINE))
